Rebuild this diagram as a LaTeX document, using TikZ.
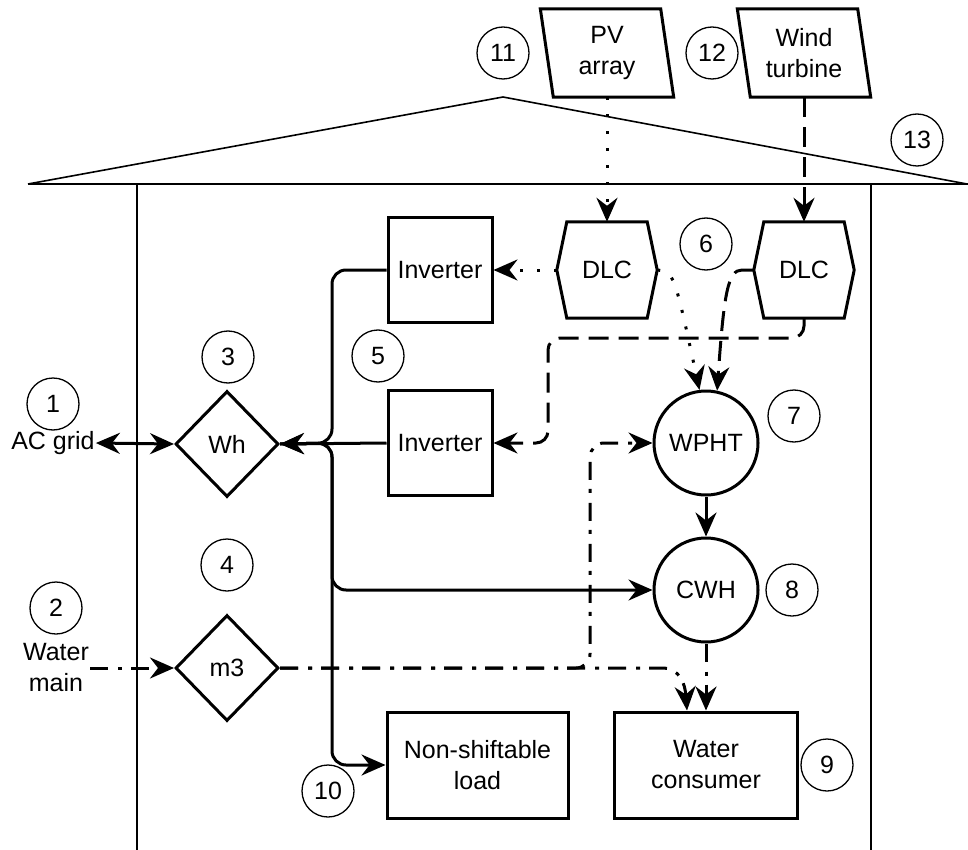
\documentclass[tikz,border=0pt]{standalone}
\usepackage{fontspec}
\setmainfont{Liberation Sans}
\usetikzlibrary{arrows.meta,shapes.geometric,calc}
\begin{document}
\begin{tikzpicture}[x=1pt,y=-1pt,
  font=\fontsize{25}{31}\selectfont,
  box/.style={draw,line width=3pt,minimum width=104pt,minimum height=105pt,inner sep=0pt,align=center},
  dia/.style={draw,diamond,line width=3pt,minimum width=103pt,minimum height=106pt,inner sep=0pt},
  circ/.style={draw,circle,line width=3pt,minimum size=104pt,inner sep=0pt},
  ghost/.style={inner sep=0pt,align=center},
  num/.style={draw,circle,line width=1.3pt,minimum size=52pt,inner sep=0pt},
  txt/.style={inner sep=1pt,align=center},
  tip/.tip={Stealth[length=24pt,width=21pt,inset=8pt]},
  conn/.style={line width=3pt,-tip},
  dotc/.style={dash pattern=on 3pt off 14pt},
  dashc/.style={dash pattern=on 20pt off 10pt},
  dashdotc/.style={dash pattern=on 18pt off 10pt on 4pt off 9pt}]
\useasboundingbox (0,0) rectangle (968,850);
% house
\draw[line width=2pt] (28,184) -- (968,184);
\draw[line width=1.6pt] (28,184) -- (503,97) -- (967,184);
\draw[line width=1.8pt] (137,184) -- (137,850);
\draw[line width=1.8pt] (871,184) -- (871,850);
% sources
\node[ghost,minimum width=120pt,minimum height=88pt] (pv) at (607,53) {PV\\array};
\draw[line width=3pt] ($(pv.north west)+(-6.5,0)$) -- ($(pv.north east)+(-6.5,0)$) -- ($(pv.south east)+(6.5,0)$) -- ($(pv.south west)+(6.5,0)$) -- cycle;
\node[ghost,minimum width=120pt,minimum height=88pt] (wind) at (804,53) {Wind\\turbine};
\draw[line width=3pt] ($(wind.north west)+(-6.5,0)$) -- ($(wind.north east)+(-6.5,0)$) -- ($(wind.south east)+(6.5,0)$) -- ($(wind.south west)+(6.5,0)$) -- cycle;
% DLCs
\node[ghost,minimum width=100pt,minimum height=96pt] (dlc1) at (607,270) {DLC};
\draw[line width=3pt] (dlc1.west) -- ($(dlc1.north west)+(10,0)$) -- ($(dlc1.north east)+(-10,0)$) -- (dlc1.east) -- ($(dlc1.south east)+(-10,0)$) -- ($(dlc1.south west)+(10,0)$) -- cycle;
\node[ghost,minimum width=100pt,minimum height=96pt] (dlc2) at (804,270) {DLC};
\draw[line width=3pt] (dlc2.west) -- ($(dlc2.north west)+(10,0)$) -- ($(dlc2.north east)+(-10,0)$) -- (dlc2.east) -- ($(dlc2.south east)+(-10,0)$) -- ($(dlc2.south west)+(10,0)$) -- cycle;
% boxes
\node[box] (inv1) at (440,270) {Inverter};
\node[box] (inv2) at (440,443) {Inverter};
\node[box,minimum width=181pt,minimum height=106pt] (nsl) at (477.5,765) {Non-shiftable\\load};
\node[box,minimum width=183pt,minimum height=106pt] (wc) at (706,765) {Water\\consumer};
\node[dia] (wh) at (227,444) {Wh};
\node[dia] (m3) at (227,668) {m3};
\node[circ] (wpht) at (706,443) {WPHT};
\node[circ] (cwh) at (706,590) {CWH};
% outside labels
\node[txt] (acgrid) at (53,443) {AC grid};
\node[txt] (wmain) at (56,668) {Water\\main};
% numbers
\node[num] (n1) at (53,404) {1};
\node[num] (n2) at (56,608) {2};
\node[num] (n3) at (228,357) {3};
\node[num] (n4) at (227,565) {4};
\node[num] (n5) at (378,356) {5};
\node[num] (n6) at (706,244) {6};
\node[num] (n7) at (794,416) {7};
\node[num] (n8) at (792,590) {8};
\node[num] (n9) at (827,765) {9};
\node[num] (n10) at (328,791) {10};
\node[num] (n11) at (503,53) {11};
\node[num] (n12) at (712,53) {12};
\node[num] (n13) at (917,140) {13};
% junctions
\coordinate (bj) at (332,443);
\coordinate (wj) at (590,443);
\coordinate (dj) at (548,338);
% connectors
\draw[conn,dotc] (pv.south) -- (dlc1.north);
\draw[conn,dashc] (wind.south) -- (dlc2.north);
\draw[conn,dotc] (dlc1.west) -- (inv1.east);
\draw[conn,dotc] (dlc1.east) .. controls (674,272) .. (wpht.97);
\draw[conn,dashc] (dlc2.west) -- (742,270) .. controls (728,270) and (724,292) .. (wpht.78);
\draw[conn,dashc,rounded corners=12pt] (dlc2.south) |- (dj) |- (inv2.east);
\draw[conn,rounded corners=14pt] (inv1.west) -| (bj) -- (wh.east);
\draw[conn] (inv2.west) -- (wh.east);
\draw[conn,rounded corners=14pt] (wh.east) -- (bj) |- (cwh.west);
\draw[conn,rounded corners=14pt] (wh.east) -- (bj) |- (nsl.west);
\draw[line width=3pt,tip-tip] (acgrid.east) -- (wh.west);
\draw[conn,dashdotc] (wmain.east) -- (m3.west);
\draw[conn,dashdotc,rounded corners=14pt] (m3.east) -| (wj) -- (wpht.west);
\draw[conn,dashdotc] (m3.east) -- (662,668) .. controls (680,668) and (685,684) .. ($(wc.north)+(-19,0)$);
\draw[conn,dashdotc] (cwh.south) -- (wc.north);
\draw[conn] (wpht.south) -- (cwh.north);
\end{tikzpicture}
\end{document}
